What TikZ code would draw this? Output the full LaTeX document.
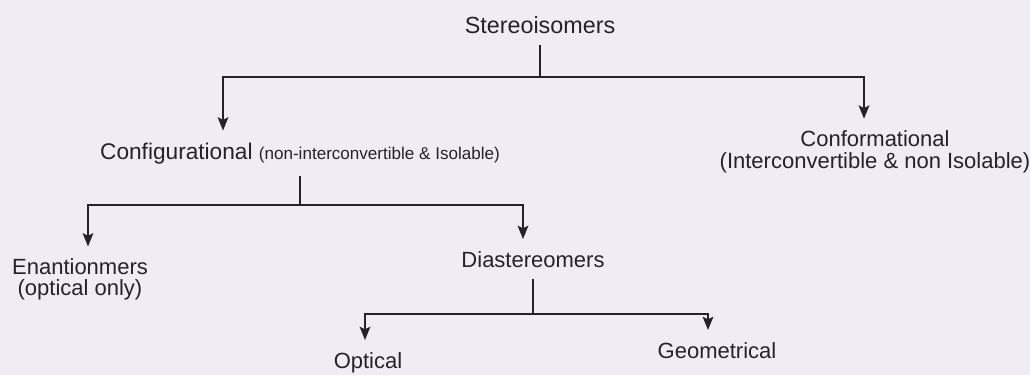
\documentclass[tikz,border=0pt]{standalone}
\usepackage{fontspec}
\setmainfont{Liberation Sans}
\usetikzlibrary{arrows.meta}
\definecolor{paper}{RGB}{239,237,243}
\definecolor{ink}{RGB}{35,35,40}
\tikzset{
    tag/.style={font=\fontsize{16.5}{19}\selectfont, text=ink, inner sep=0pt, outer ysep=9pt},
    bar/.style={draw=ink, line width=1.4pt},
    drop/.style={bar, -{Stealth[length=10pt,width=8pt,inset=2pt]}}
}

\begin{document}
\begin{tikzpicture}[x=0.75pt, y=0.75pt]
    % Background
    \path[use as bounding box, fill=paper] (0,0) rectangle (1030,-375);

    % Stereoisomers
    \node[tag, anchor=base, font=\fontsize{17.5}{21}\selectfont] (stereo) at (540,-33) {Stereoisomers};

    % Configurational
    \node[tag, anchor=base, font=\fontsize{17}{21}\selectfont] (config) at (300,-159)
        {Configurational {\fontsize{12.8}{15}\selectfont(non-interconvertible \& Isolable)}};

    % Conformational
    \node[tag, align=center, font=\fontsize{16.5}{16.5}\selectfont] (conform) at (875,-152)
        {Conformational\\(Interconvertible \& non Isolable)};

    % Enantionmers
    \node[tag, align=center, font=\fontsize{16.5}{15.5}\selectfont] (enant) at (80,-279)
        {Enantionmers\\(optical only)};

    % Diastereomers
    \node[tag, anchor=base] (diast) at (533,-267) {Diastereomers};

    % Optical and Geometrical
    \node[tag, anchor=base] (optic) at (368,-368) {Optical};
    \node[tag, anchor=base] (geom) at (717,-358) {Geometrical};

    % Branch points
    \coordinate (fork1) at (stereo.south |- 0,-77);
    \coordinate (dropL1) at (223,-77);
    \coordinate (dropR1) at (864,-77);
    \coordinate (fork2) at (config.south |- 0,-205);
    \coordinate (dropL2) at (88,-205);
    \coordinate (dropR2) at (523,-205);
    \coordinate (fork3) at (diast.south |- 0,-314);
    \coordinate (dropL3) at (365,-314);
    \coordinate (dropR3) at (708,-314);

    % Arrows
    \draw[bar] (stereo.south) -- (fork1);
    \draw[drop] (fork1) -| (dropL1 |- config.north);
    \draw[drop] (fork1) -| (dropR1 |- conform.north);

    \draw[bar] (config.south) -- (fork2);
    \draw[drop] (fork2) -| (dropL2 |- enant.north);
    \draw[drop] (fork2) -| (dropR2 |- diast.north);

    \draw[bar] (diast.south) -- (fork3);
    \draw[drop] (fork3) -| (dropL3 |- optic.north);
    \draw[drop] (fork3) -| (dropR3 |- geom.north);
\end{tikzpicture}
\end{document}
